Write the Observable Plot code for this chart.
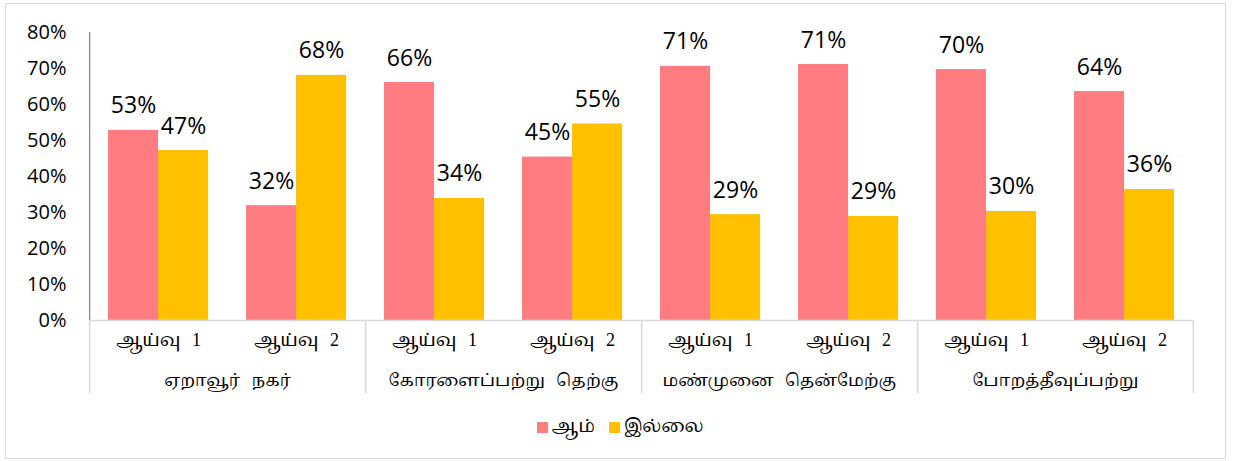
<!DOCTYPE html>
<html><head><meta charset="utf-8">
<script src="https://cdn.jsdelivr.net/npm/d3@7"></script>
<script src="https://cdn.jsdelivr.net/npm/@observablehq/plot@0.6"></script>
<style>
body{margin:0;background:#fff;}
#wrap{position:relative;width:1233px;height:461px;overflow:hidden;}
#border{position:absolute;left:5px;top:3px;width:1221px;height:456px;border:1px solid #d9d9d9;box-sizing:border-box;pointer-events:none;}
#chart{position:absolute;left:0;top:0;}
#legend{position:absolute;left:0;top:413px;width:1240px;display:flex;justify-content:center;align-items:center;
  font-family:'Liberation Serif','Noto Serif Tamil','Noto Sans Tamil',serif;font-size:18px;color:#000;}
#legend .item{display:flex;align-items:center;margin:0 7px;}
#legend .sw{width:11px;height:11px;margin-right:4px;}
.tam text{word-spacing:7px;}
</style></head>
<body>
<div id="wrap"><div id="chart"></div><div id="legend"></div><div id="border"></div></div>
<script>
// ---- data ----
const regions = ["ஏறாவூர் நகர்", "கோரளைப்பற்று தெற்கு", "மண்முனை தென்மேற்கு", "போறத்தீவுப்பற்று"];
const surveys = ["ஆய்வு 1", "ஆய்வு 2"];
const seriesNames = ["ஆம்", "இல்லை"];
const yesValues = [52.8, 31.9, 66.1, 45.4, 70.6, 71.1, 69.7, 63.6];
const noValues  = [47.2, 68.1, 33.9, 54.6, 29.4, 28.9, 30.3, 36.4];
const yTicks = [0, 10, 20, 30, 40, 50, 60, 70, 80];
const seriesColors = ["#FF7C80", "#FFC000"];

// ---- build table ----
const keys = [];
regions.forEach(r => surveys.forEach(s => keys.push(r + "|" + s)));
const rows = [];
keys.forEach((k, i) => {
  rows.push({key: k, series: seriesNames[0], value: yesValues[i]});
  rows.push({key: k, series: seriesNames[1], value: noValues[i]});
});
const regionRows = regions.map((r, i) => ({key: keys[i * 2], region: r}));

// layout
const W = 1233, H = 400, mL = 86, mR = 37, mT = 32, mB = 80;
const padOuter = 0.36;
const facetW = (W - mL - mR) / keys.length;
const bw = facetW / (2 + 2 * padOuter);
const edgeOffset = padOuter * bw + bw / 2; // from facet edge to band centre

const sepRows = regionRows.map(d => ({key: d.key, s: seriesNames[0]}));
const tamilFont = "'Liberation Serif','Noto Serif Tamil','Noto Sans Tamil',serif";
const numFont = "'Open Sans', sans-serif";

const chart = Plot.plot({
  width: W, height: H,
  marginLeft: mL, marginRight: mR, marginTop: mT, marginBottom: mB,
  style: {fontFamily: numFont, color: "#000", background: "transparent"},
  fx: {domain: keys, padding: 0},
  x: {domain: seriesNames, paddingInner: 0, paddingOuter: padOuter, axis: null},
  y: {domain: [0, 80]},
  color: {domain: seriesNames, range: seriesColors},
  marks: [
    Plot.barY(rows, {fx: "key", x: "series", y: "value", fill: "series"}),
    Plot.ruleY([0], {stroke: "#d9d9d9", strokeWidth: 1.5}),
    // y axis line
    Plot.ruleX([{key: keys[0], s: seriesNames[0]}], {fx: "key", x: "s", dx: -edgeOffset, stroke: "#868686", strokeWidth: 1.3}),
    // category separators below the axis
    Plot.ruleX(sepRows, {fx: "key", x: "s", dx: -edgeOffset, stroke: "#d9d9d9", strokeWidth: 1.5, insetTop: H - mT - mB, insetBottom: -73}),
    Plot.ruleX([{key: keys[keys.length - 1], s: seriesNames[1]}], {fx: "key", x: "s", dx: edgeOffset, stroke: "#d9d9d9", strokeWidth: 1.5, insetTop: H - mT - mB, insetBottom: -73}),
    Plot.axisY({ticks: yTicks, tickFormat: d => d + "%", tickSize: 0, tickPadding: 23, fontSize: 20, label: null}),
    Plot.axisFx({anchor: "bottom", tickSize: 0, tickPadding: 13, tickFormat: k => k.split("|")[1], label: null, fontSize: 18, fontFamily: tamilFont, className: "tam"}),
    Plot.text(regionRows, {fx: "key", frameAnchor: "bottom-right", textAnchor: "middle", lineAnchor: "middle", dy: 60, text: "region", fontSize: 17, fontFamily: tamilFont, className: "tam"}),
    Plot.text(rows, {fx: "key", x: "series", y: "value", text: d => Math.round(d.value) + "%", lineAnchor: "bottom", dy: -17, fontSize: 23})
  ]
});
document.getElementById("chart").appendChild(chart);

const legend = document.getElementById("legend");
seriesNames.forEach((name, i) => {
  const item = document.createElement("div");
  item.className = "item";
  const sw = document.createElement("div");
  sw.className = "sw";
  sw.style.background = seriesColors[i];
  const t = document.createElement("span");
  t.textContent = name;
  item.appendChild(sw); item.appendChild(t);
  legend.appendChild(item);
});
</script>
</body></html>
